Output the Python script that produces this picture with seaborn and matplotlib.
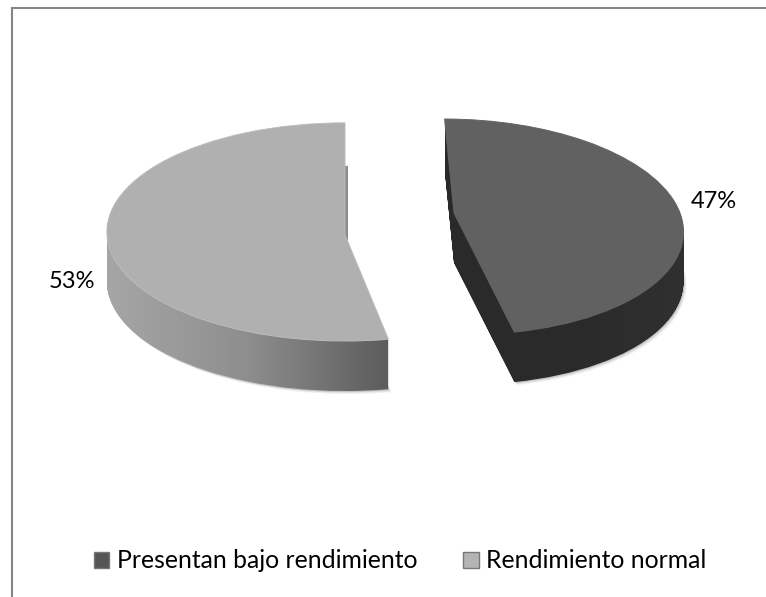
import numpy as np
import matplotlib
matplotlib.use("Agg")
import matplotlib.pyplot as plt
import seaborn as sns
from matplotlib.patches import Patch, PathPatch
from matplotlib.path import Path

categories = ['Presentan bajo rendimiento', 'Rendimiento normal']
shares = [47, 53]

top_colors = ['#616161', '#b0b0b0']
rim_colors = ['#636363', '#bcbcbc']
wall_colors = [['#2a2a2a', '#2a2a2a', '#303030'], ['#a6a6a6', '#8e8e8e', '#5c5c5c']]

# wedge shape on the page: centre x, centre y (from top), rx, ry, perspective, shear
shapes = [(454, 213, 226, 106, 0.128, 0.10), (345, 235, 238, 109, -0.028, 0.0)]
depth = 50
H = 597

sns.set_theme(style="white")
plt.rcParams['font.family'] = ['Lato', 'DejaVu Sans']

fig = plt.figure(figsize=(7.66, 5.97), dpi=100)
ax = fig.add_axes([11.5 / 766, 0, 1 - 11.5 / 766, 589 / 597])


def warp(path, cx, cy, rx, ry, p, s):
    v = path.vertices
    w = 1 + p * v[:, 1]
    up = ry * v[:, 1] / w
    x = cx + rx * v[:, 0] / w - s * up
    y = (H - cy) + up
    return Path(np.column_stack([x, y]), path.codes)


def shifted(path, dx, dy):
    return Path(path.vertices + [dx, dy], path.codes)


wedges, _ = ax.pie(shares, startangle=90, counterclock=False, frame=True)

for i, wedge in enumerate(wedges):
    wedge.set_visible(False)
    top = warp(wedge.get_path(), *shapes[i])

    # soft shadow under the slice
    for off, a in [(3, 0.05), (2, 0.08), (1, 0.12)]:
        ax.add_patch(PathPatch(shifted(top, off, -depth - off), fc='black', ec='none', alpha=a, zorder=1))

    # the cut face that shows behind the light slice
    if i == 1:
        face = PathPatch(shifted(top, 3, -43), fc='#8c8c8c', ec='none', zorder=1.5)
        ax.add_patch(face)
        face.set_clip_path(PathPatch(shifted(top, 3, 0), transform=ax.transData))

    # sides: the top shape swept down, painted with a horizontal gradient
    sweep = Path.make_compound_path(*[shifted(top, 0, -d) for d in range(1, depth + 1)])
    box = sweep.get_extents()
    cmap = sns.blend_palette(wall_colors[i], as_cmap=True)
    im = ax.imshow(np.linspace(0, 1, 256)[None, :], cmap=cmap, vmin=0, vmax=1, aspect='auto',
                   extent=(box.x0, box.x1, box.y0, box.y1), zorder=2)
    im.set_clip_path(PathPatch(sweep, transform=ax.transData))

    ax.add_patch(PathPatch(top, fc=top_colors[i], ec=rim_colors[i], lw=0.7, zorder=4))

ax.set_aspect('auto')
ax.set_xlim(11.5, 766)
ax.set_ylim(0, 589)
ax.set_xticks([])
ax.set_yticks([])

for side in ax.spines:
    ax.spines[side].set_visible(side in ('left', 'top'))
    ax.spines[side].set_color('#868686')
    ax.spines[side].set_linewidth(1.5)

label_pos = [(714, 202), (72, 281)]
for v, (px, py) in zip(shares, label_pos):
    ax.text(px, H - py, f"{v}%", ha='center', va='center', fontsize=17, color='black', zorder=5)

handles = [Patch(fc=c, ec='#777777', lw=1.0, label=n) for c, n in zip(['#555555', '#b4b4b4'], categories)]
ax.legend(handles=handles, loc='center', bbox_to_anchor=(400, H - 561), bbox_transform=ax.transData,
          ncol=2, frameon=False, fontsize=17.8, handlelength=0.63, handleheight=0.63,
          handletextpad=0.3, columnspacing=1.85, labelcolor='black', borderpad=0)

fig.savefig('out.png', dpi=100)
